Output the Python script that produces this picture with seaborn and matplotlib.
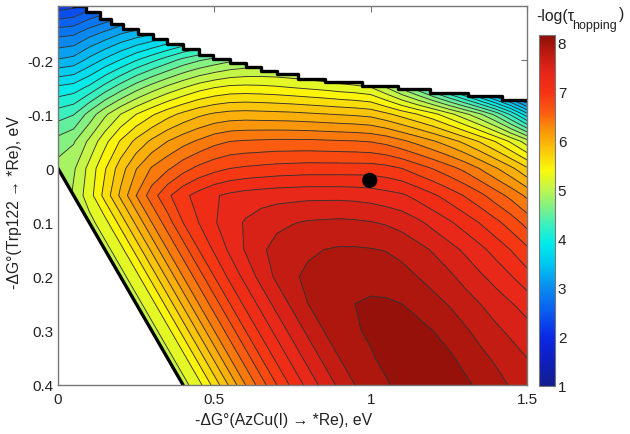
import numpy as np
import matplotlib
matplotlib.use("Agg")
import matplotlib.pyplot as plt
from matplotlib.colors import LinearSegmentedColormap
from matplotlib.patches import Polygon
import seaborn as sns

# values, x every 0.05, one list per y row
x_vals = [0, 0.05, 0.1, 0.15, 0.2, 0.25, 0.3, 0.35, 0.4, 0.45, 0.5, 0.55, 0.6, 0.65, 0.7, 0.75,
          0.8, 0.85, 0.9, 0.95, 1.0, 1.05, 1.1, 1.15, 1.2, 1.25, 1.3, 1.35, 1.4, 1.45, 1.5]
y_vals = [-0.3, -0.25, -0.2, -0.15, -0.1, -0.05, 0, 0.05, 0.1, 0.15, 0.2, 0.25, 0.3, 0.35, 0.4]

row_m30 = [2.2, 2.25, 2.4, 2.5, 2.6, 2.68, 2.75, 2.82, 2.9, 2.95, 2.98, 3.0, 3.0, 2.98, 2.95, 2.9,
           2.85, 2.75, 2.65, 2.55, 2.4, 2.2, 1.9, 1.6, 1.4, 1.2, 1.1, 1.05, 1.02, 1.0, 1.0]
row_m25 = [2.8, 2.83, 2.98, 3.1, 3.23, 3.32, 3.4, 3.5, 3.6, 3.68, 3.75, 3.8, 3.82, 3.82, 3.8, 3.76,
           3.7, 3.64, 3.56, 3.48, 3.38, 3.15, 2.9, 2.6, 2.3, 2.0, 1.7, 1.5, 1.3, 1.1, 1.0]
row_m20 = [3.27, 3.32, 3.5, 3.67, 3.83, 4.0, 4.15, 4.3, 4.45, 4.56, 4.65, 4.73, 4.78, 4.8, 4.8, 4.78,
           4.75, 4.7, 4.63, 4.55, 4.45, 4.2, 3.95, 3.7, 3.4, 3.1, 2.8, 2.5, 2.2, 1.9, 1.6]
row_m15 = [3.85, 3.9, 4.05, 4.27, 4.48, 4.68, 4.85, 5.0, 5.13, 5.25, 5.33, 5.38, 5.39, 5.38, 5.36, 5.33,
           5.3, 5.27, 5.23, 5.2, 5.15, 4.95, 4.7, 4.45, 4.15, 3.85, 3.55, 3.2, 2.85, 2.5, 2.15]
row_m10 = [4.3, 4.38, 4.65, 4.92, 5.15, 5.34, 5.5, 5.65, 5.77, 5.87, 5.94, 5.98, 5.99, 5.98, 5.97, 5.96,
           5.94, 5.92, 5.9, 5.88, 5.85, 5.76, 5.65, 5.53, 5.4, 5.22, 5.02, 4.8, 4.52, 4.15, 3.7]
row_m05 = [4.65, 4.75, 5.0, 5.28, 5.55, 5.77, 5.95, 6.1, 6.22, 6.32, 6.42, 6.48, 6.5, 6.51, 6.52, 6.52,
           6.52, 6.51, 6.5, 6.49, 6.47, 6.42, 6.33, 6.23, 6.12, 6.0, 5.86, 5.7, 5.52, 5.3, 5.05]
row_00 = [4.85, 4.93, 5.21, 5.51, 5.82, 6.09, 6.31, 6.45, 6.6, 6.72, 6.8, 6.86, 6.89, 6.91, 6.93, 6.94,
          6.95, 6.95, 6.95, 6.95, 6.95, 6.92, 6.86, 6.76, 6.66, 6.55, 6.43, 6.28, 6.12, 5.95, 5.75]
row_05 = [4.7, 5.0, 5.25, 5.6, 5.95, 6.29, 6.58, 6.82, 7.0, 7.12, 7.22, 7.28, 7.32, 7.34, 7.36, 7.37,
          7.38, 7.38, 7.38, 7.37, 7.35, 7.31, 7.27, 7.18, 7.08, 6.97, 6.85, 6.72, 6.57, 6.42, 6.25]
row_10 = [4.6, 4.85, 5.08, 5.27, 5.6, 5.95, 6.29, 6.58, 6.86, 7.05, 7.22, 7.35, 7.45, 7.53, 7.58, 7.61,
          7.64, 7.65, 7.66, 7.65, 7.63, 7.6, 7.55, 7.47, 7.37, 7.27, 7.16, 7.04, 6.91, 6.77, 6.6]
row_15 = [4.35, 4.6, 4.85, 5.08, 5.27, 5.6, 5.95, 6.29, 6.58, 6.86, 7.08, 7.28, 7.45, 7.59, 7.68, 7.74,
          7.78, 7.81, 7.83, 7.83, 7.82, 7.8, 7.75, 7.68, 7.6, 7.5, 7.4, 7.29, 7.17, 7.04, 6.9]
row_20 = [4.05, 4.35, 4.6, 4.85, 5.08, 5.27, 5.6, 5.95, 6.29, 6.58, 6.86, 7.1, 7.3, 7.5, 7.66, 7.78,
          7.85, 7.9, 7.94, 7.95, 7.95, 7.93, 7.88, 7.81, 7.74, 7.66, 7.56, 7.46, 7.36, 7.25, 7.12]
row_25 = [3.75, 4.05, 4.35, 4.6, 4.85, 5.08, 5.27, 5.6, 5.95, 6.29, 6.58, 6.86, 7.1, 7.3, 7.5, 7.66,
          7.81, 7.89, 7.95, 8.0, 8.02, 8.02, 8.0, 7.95, 7.87, 7.8, 7.71, 7.62, 7.53, 7.44, 7.35]
row_30 = [3.45, 3.75, 4.05, 4.35, 4.6, 4.85, 5.08, 5.27, 5.6, 5.95, 6.29, 6.58, 6.86, 7.1, 7.3, 7.5,
          7.66, 7.81, 7.9, 7.98, 8.03, 8.06, 8.07, 8.05, 8.0, 7.93, 7.84, 7.75, 7.66, 7.58, 7.5]
row_35 = [3.15, 3.45, 3.75, 4.05, 4.35, 4.6, 4.85, 5.08, 5.27, 5.6, 5.95, 6.29, 6.58, 6.86, 7.1, 7.3,
          7.5, 7.66, 7.81, 7.9, 7.98, 8.05, 8.09, 8.1, 8.08, 8.03, 7.95, 7.86, 7.78, 7.7, 7.62]
row_40 = [2.85, 3.15, 3.45, 3.75, 4.05, 4.35, 4.6, 4.85, 5.08, 5.27, 5.6, 5.95, 6.29, 6.58, 6.86, 7.1,
          7.3, 7.5, 7.66, 7.81, 7.9, 7.98, 8.06, 8.1, 8.12, 8.1, 8.04, 7.96, 7.88, 7.79, 7.7]

# edge of the allowed region (stairs on top, straight line bottom left)
top_x = [0.045, 0.09, 0.134, 0.17, 0.208, 0.255, 0.304, 0.35, 0.4, 0.45, 0.496, 0.55, 0.6, 0.65, 0.7, 0.767, 0.854, 0.972, 1.087, 1.19, 1.31, 1.42, 1.5]
top_y = [-0.30, -0.288, -0.276, -0.266, -0.257, -0.248, -0.239, -0.23, -0.22, -0.21, -0.202, -0.194, -0.187, -0.18, -0.174, -0.165, -0.159, -0.152, -0.146, -0.139, -0.133, -0.126, -0.126]
low_x = [0, 0.4]
low_y = [0, 0.4]

dot_x = [0.997]
dot_y = [0.022]

x_ticks = [0, 0.5, 1, 1.5]
x_labels = ["0", "0.5", "1", "1.5"]
y_ticks = [-0.2, -0.1, 0, 0.1, 0.2, 0.3, 0.4]
y_labels = ["-0.2", "-0.1", "0", "0.1", "0.2", "0.3", "0.4"]
cbar_ticks = [1, 2, 3, 4, 5, 6, 7, 8]

# colours sampled along the reference colorbar
bar_vals = [1, 1.5, 2, 2.5, 3, 3.5, 3.9, 4.3, 4.6, 5, 5.4, 5.8, 6.2, 6.6, 7, 7.4, 7.8, 8.16]
bar_cols = ["#141e8c", "#0f1ebe", "#0a28e6", "#0a5af0", "#0a8cf0", "#00c8f0", "#00ebeb", "#3cf0be",
            "#78f08c", "#bef550", "#fafa0a", "#fac80a", "#fa960a", "#fa5a0f", "#f53214", "#e6261a",
            "#bb1a10", "#8c0f08"]

sns.set_theme(style="white")
plt.rcParams["font.family"] = ["Liberation Sans", "DejaVu Sans"]
grey = "#777777"
text_col = "#222222"

z = np.array([row_m30, row_m25, row_m20, row_m15, row_m10, row_m05, row_00, row_05,
              row_10, row_15, row_20, row_25, row_30, row_35, row_40])
line_levels = np.arange(1.16, 8.05, 0.19)
fill_levels = np.append(line_levels, 8.16)
norm = plt.Normalize(1, 8.16)
stops = [(v - 1) / 7.16 for v in bar_vals]
bar_cmap = LinearSegmentedColormap.from_list("bar", list(zip(stops, bar_cols)), N=512)

fig = plt.figure(figsize=(6.3, 4.35), dpi=100)
ax = fig.add_axes([58 / 630, 49 / 435, 469 / 630, 379 / 435])

filled = ax.contourf(x_vals, y_vals, z, levels=fill_levels, cmap=bar_cmap, norm=norm, extend="both")
lines = ax.contour(x_vals, y_vals, z, levels=line_levels, colors="#333333", linewidths=0.65)

# cut everything outside the allowed region
stair_x = np.repeat(top_x, 2)[1:]
stair_y = np.repeat(top_y, 2)[:-1]
outline = list(zip(stair_x, stair_y)) + [(1.5, 0.4), (0.4, 0.4), (0, 0), (0, -0.3)]
clip = Polygon(outline, closed=True, transform=ax.transData, fc="none", ec="none")
ax.add_patch(clip)
filled.set_clip_path(clip)
lines.set_clip_path(clip)

ax.plot(top_x, top_y, drawstyle="steps-post", color="black", lw=2.4, solid_capstyle="butt")
ax.plot(low_x, low_y, color="black", lw=2.4)
sns.scatterplot(x=dot_x, y=dot_y, ax=ax, color="black", s=120, edgecolor="none", zorder=5)

ax.set_xlim(0, 1.5)
ax.set_ylim(0.4, -0.3)
ax.set_xticks(x_ticks, x_labels)
ax.set_yticks(y_ticks, y_labels)
ax.tick_params(direction="in", length=4, width=0.8, color=grey, top=True, right=True,
               labelsize=11, labelcolor=text_col, pad=3)
ax.tick_params(axis="x", pad=5)
for s in ax.spines.values():
    s.set_color(grey)
    s.set_linewidth(1)
ax.set_xlabel("-ΔG°(AzCu(I) → *Re), eV", fontsize=11.3, color=text_col, va="center")
ax.xaxis.set_label_coords(0.482, -0.09)
ax.set_ylabel("-ΔG°(Trp122 → *Re), eV", fontsize=11.3, color=text_col, va="center")
ax.yaxis.set_label_coords(-0.093, 0.485)

# colorbar
cax = fig.add_axes([539 / 630, 48 / 435, 16 / 630, 351 / 435])
sm = plt.cm.ScalarMappable(norm=norm, cmap=bar_cmap)
cbar = fig.colorbar(sm, cax=cax)
cbar.set_ticks(cbar_ticks)
cax.tick_params(direction="in", length=3, width=0.8, color=grey, labelsize=11,
                labelcolor=text_col, pad=2)
cbar.outline.set_edgecolor(grey)
cbar.outline.set_linewidth(0.8)
fig.text(536 / 630, 1 - 16 / 435, "-log(τ", fontsize=11.3, color=text_col, va="center")
fig.text(572 / 630, 1 - 26 / 435, "hopping", fontsize=9, color=text_col, va="center")
fig.text(619 / 630, 1 - 15 / 435, ")", fontsize=11.3, color=text_col, va="center")

fig.savefig("out.png", dpi=100)
